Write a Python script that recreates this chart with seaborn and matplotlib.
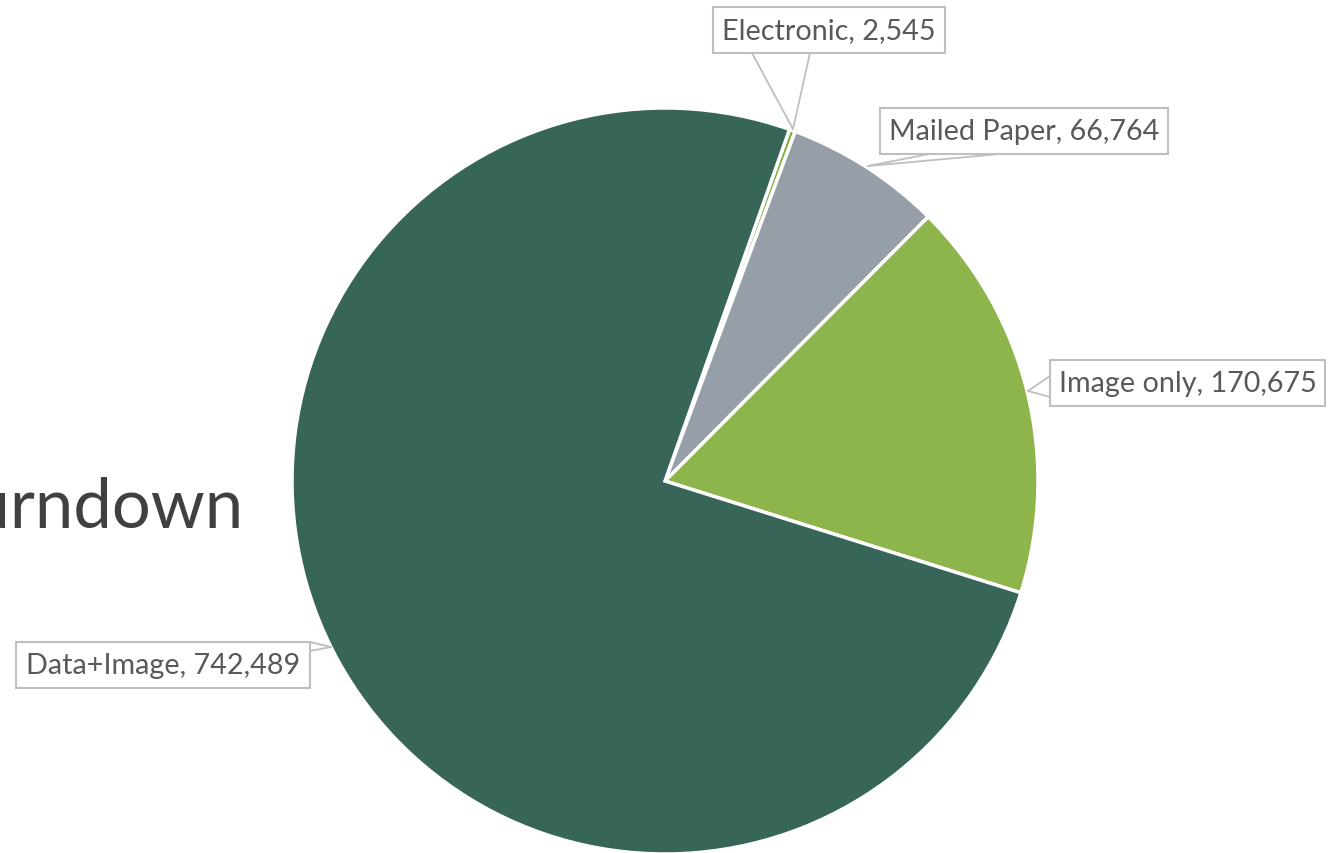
import matplotlib
matplotlib.use('Agg')
import matplotlib.pyplot as plt
from matplotlib.patches import Rectangle
import seaborn as sns

# slice data, in drawing order (clockwise from the first slice)
categories = ['Electronic', 'Mailed Paper', 'Image only', 'Data+Image']
counts = [2545, 66764, 170675, 742489]
slice_colors = ['#7fae3f', '#969ea7', '#8db54b', '#376658']

W, H = 1337, 854

sns.set_theme(style='white')
plt.rcParams['font.family'] = ['Lato', 'DejaVu Sans']

fig = plt.figure(figsize=(W / 100, H / 100), dpi=100)
ax = fig.add_axes([0, 0, 1, 1])
ax.set_xlim(0, W)
ax.set_ylim(0, H)
ax.set_aspect('equal')
ax.axis('off')


def py(y):
    # pixel row (top-down) -> data y (bottom-up)
    return H - y


# slide title, mostly cut off by the left edge
ax.text(244, py(528), 'Burndown', fontsize=49.5, color='#404040',
        ha='right', va='baseline', zorder=1)

ax.pie(counts, colors=slice_colors, startangle=70.5, counterclock=False,
       center=(665, py(482)), radius=373, frame=True,
       wedgeprops=dict(edgecolor='white', linewidth=2.5))
ax.set_xlim(0, W)
ax.set_ylim(0, H)
ax.axis('off')

# callout boxes: (x0, y0, x1, y1) in pixels, wedge base points, tip
callouts = {
    'Electronic': ((713, 8, 945, 54), [(752, 54), (810, 54)], (793, 130)),
    'Mailed Paper': ((880, 109, 1168, 155), [(929, 155), (1000, 155)], (868, 167)),
    'Image only': ((1050, 361, 1325, 407), [(1050, 377), (1050, 398)], (1028, 392)),
    'Data+Image': ((16, 643, 310, 689), [(310, 643), (310, 652)], (331, 648)),
}

line_col = '#bfbfbf'
for cat, val in zip(categories, counts):
    (x0, y0, x1, y1), base, tip = callouts[cat]
    ax.add_patch(Rectangle((x0, py(y1)), x1 - x0, y1 - y0, facecolor='white',
                           edgecolor=line_col, linewidth=1.5, zorder=5))
    for bx, by in base:
        ax.plot([bx, tip[0]], [py(by), py(tip[1])], color=line_col,
                linewidth=1.3, zorder=4, solid_capstyle='round')
    ax.text((x0 + x1) / 2, py((y0 + y1) / 2), '{}, {:,}'.format(cat, val),
            fontsize=20.7, color='#595959', ha='center', va='center', zorder=6)

fig.savefig('out.png', dpi=100)
